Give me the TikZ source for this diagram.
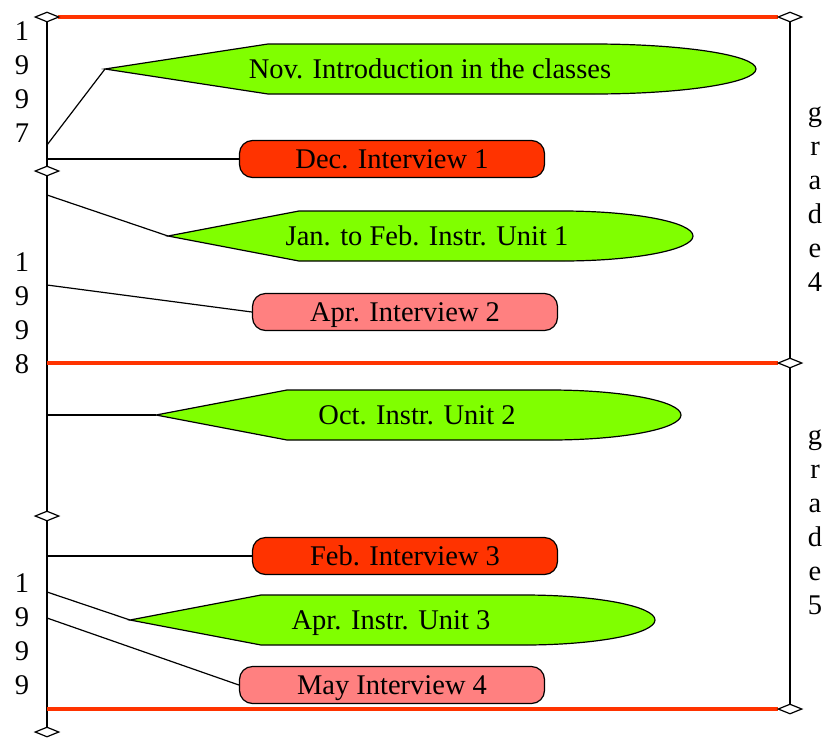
\documentclass[tikz,border=0pt]{standalone}
\usepackage{fontspec}
\setmainfont{Liberation Serif}
\usetikzlibrary{shapes.geometric}
\definecolor{tlred}{HTML}{FF3300}
\definecolor{tlpink}{HTML}{FF8080}
\definecolor{tlgreen}{HTML}{80FF00}
\tikzset{
  tlfont/.style={font=\fontsize{28.5}{34}\selectfont},
  interview/.style={
    rectangle,
    rounded corners=13pt,
    draw=black,
    line width=1.2pt,
    minimum width=305pt,
    minimum height=37pt,
    text height=19pt,
    text depth=0pt,
    inner sep=0pt,
    tlfont
  },
  interviewmain/.style={interview, fill=tlred},
  interviewlate/.style={interview, fill=tlpink},
  unitshape/.style={draw=black, fill=tlgreen, line width=1.2pt},
  unittext/.style={inner sep=0pt, text height=19pt, text depth=0pt, tlfont},
  sidelabel/.style={align=center, inner sep=0pt, tlfont},
  semester/.style={line width=4pt, draw=tlred},
  timeline/.style={line width=1.2pt},
  connector/.style={line width=1.2pt},
  marker/.style={diamond, draw=black, fill=white, line width=1.2pt,
    minimum width=24pt, minimum height=10pt, inner sep=0pt}
}
\begin{document}
\begin{tikzpicture}[x=1pt, y=-1pt]
\useasboundingbox (0,0) rectangle (824,737);
% time axes
\draw[timeline] (47,17) -- (47,732);
\draw[timeline] (790,17) -- (790,709);
% school year limits
\draw[semester] (58,17) -- (778,17);
\draw[semester] (47,363) -- (778,363);
\draw[semester] (47,709) -- (778,709);
\node[marker] (m1) at (47,17) {};
\node[marker] (m2) at (47,171) {};
\node[marker] (m3) at (47,516) {};
\node[marker] (m4) at (47,732) {};
\node[marker] (g1) at (790,17) {};
\node[marker] (g2) at (790,363) {};
\node[marker] (g3) at (790,709) {};
% years and grades
\node[sidelabel] (y97) at (22,82) {1\\9\\9\\7};
\node[sidelabel] (y98) at (22,313) {1\\9\\9\\8};
\node[sidelabel] (y99) at (22,634) {1\\9\\9\\9};
\node[sidelabel] (gr4) at (815,199) {g\\r\\a\\d\\e\\4};
\node[sidelabel] (gr5) at (815,522) {g\\r\\a\\d\\e\\5};
% instruction units
\coordinate (nov) at (105,69);
\coordinate (jan) at (168,236);
\coordinate (oct) at (156,415);
\coordinate (apru) at (130,620);
\filldraw[unitshape] (nov) -- (268,44) -- (593,44)
  arc[start angle=90, end angle=-90, x radius=163pt, y radius=25pt] -- (268,94) -- cycle;
\filldraw[unitshape] (jan) -- (299,211) -- (562,211)
  arc[start angle=90, end angle=-90, x radius=131pt, y radius=25pt] -- (299,261) -- cycle;
\filldraw[unitshape] (oct) -- (287,390) -- (550,390)
  arc[start angle=90, end angle=-90, x radius=131pt, y radius=25pt] -- (287,440) -- cycle;
\filldraw[unitshape] (apru) -- (261,595) -- (524,595)
  arc[start angle=90, end angle=-90, x radius=131pt, y radius=25pt] -- (261,645) -- cycle;
\node[unittext] (novt) at (430,69) {Nov. Introduction in the classes};
\node[unittext] (jant) at (427,236) {Jan. to Feb. Instr. Unit 1};
\node[unittext] (octt) at (417,415) {Oct. Instr. Unit 2};
\node[unittext] (aprut) at (391,620) {Apr. Instr. Unit 3};
% interviews
\node[interviewmain] (int1) at (392,159) {Dec. Interview 1};
\node[interviewlate] (int2) at (405,312) {Apr. Interview 2};
\node[interviewmain] (int3) at (405,556) {Feb. Interview 3};
\node[interviewlate] (int4) at (392,685) {May Interview 4};
% links to the time axis
\coordinate (t1) at (47,145);
\coordinate (t2) at (47,159);
\coordinate (t3) at (47,195);
\coordinate (t4) at (47,285);
\coordinate (t5) at (47,415);
\coordinate (t6) at (47,556);
\coordinate (t7) at (47,592);
\coordinate (t8) at (47,618);
\draw[connector] (t1) -- (nov);
\draw[connector] (t2) -- (int1.west);
\draw[connector] (t3) -- (jan);
\draw[connector] (t4) -- (int2.west);
\draw[connector] (t5) -- (oct);
\draw[connector] (t6) -- (int3.west);
\draw[connector] (t7) -- (apru);
\draw[connector] (t8) -- (int4.west);
\end{tikzpicture}
\end{document}
